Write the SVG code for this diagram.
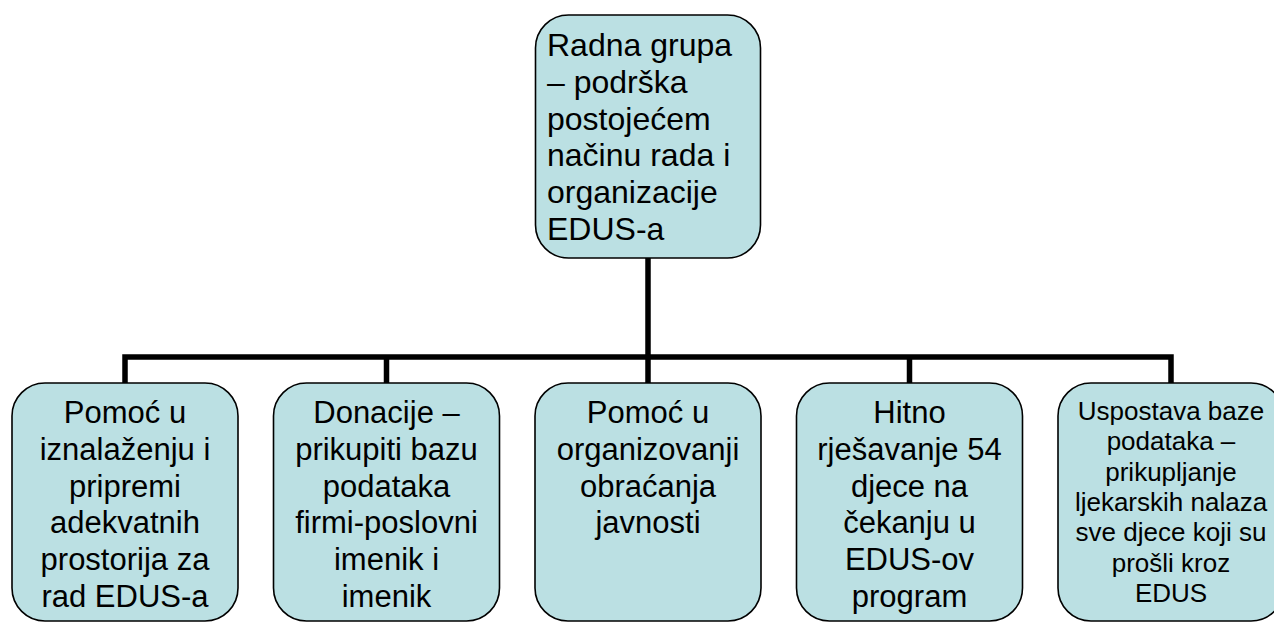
<svg xmlns="http://www.w3.org/2000/svg" width="1274" height="622" viewBox="0 0 1274 622">
<style>
.box{fill:#BBE0E3;stroke:#000;stroke-width:1.6}
.conn{fill:none;stroke:#000;stroke-width:5.5;stroke-linecap:butt;stroke-linejoin:miter}
text{font-family:"Liberation Sans",Arial,sans-serif;fill:#000}
.t{font-size:31px;text-anchor:middle}
.s{font-size:26px;text-anchor:middle}
.top{font-size:32px}
</style>
<rect width="1274" height="622" fill="#fff"/>
<g id="connectors">
<path class="conn" d="M648 258V357M125 383V357H1171V383M386.5 357V383M648 357V383M909.5 357V383"/>
</g>
<g id="root">
<rect class="box" x="535.5" y="15" width="225" height="243" rx="33"/>
<text class="top" x="547"><tspan x="547" y="56">Radna grupa</tspan><tspan x="547" y="92.8">– podrška</tspan><tspan x="547" y="129.6">postojećem</tspan><tspan x="547" y="166.4">načinu rada i</tspan><tspan x="547" y="203.2">organizacije</tspan><tspan x="547" y="240">EDUS-a</tspan></text>
</g>
<g id="n1">
<rect class="box" x="12" y="383" width="226" height="238" rx="33"/>
<text class="t"><tspan x="125" y="423">Pomoć u</tspan><tspan x="125" y="459.8">iznalaženju i</tspan><tspan x="125" y="496.6">pripremi</tspan><tspan x="125" y="533.4">adekvatnih</tspan><tspan x="125" y="570.2">prostorija za</tspan><tspan x="125" y="607">rad EDUS-a</tspan></text>
</g>
<g id="n2">
<rect class="box" x="273.5" y="383" width="226" height="238" rx="33"/>
<text class="t"><tspan x="386.5" y="423">Donacije –</tspan><tspan x="386.5" y="459.8">prikupiti bazu</tspan><tspan x="386.5" y="496.6">podataka</tspan><tspan x="386.5" y="533.4">firmi-poslovni</tspan><tspan x="386.5" y="570.2">imenik i</tspan><tspan x="386.5" y="607">imenik</tspan></text>
</g>
<g id="n3">
<rect class="box" x="535" y="383" width="226" height="238" rx="33"/>
<text class="t"><tspan x="648" y="423">Pomoć u</tspan><tspan x="648" y="459.8">organizovanji</tspan><tspan x="648" y="496.6">obraćanja</tspan><tspan x="648" y="533.4">javnosti</tspan></text>
</g>
<g id="n4">
<rect class="box" x="796.5" y="383" width="226" height="238" rx="33"/>
<text class="t"><tspan x="909.5" y="423">Hitno</tspan><tspan x="909.5" y="459.8">rješavanje 54</tspan><tspan x="909.5" y="496.6">djece na</tspan><tspan x="909.5" y="533.4">čekanju u</tspan><tspan x="909.5" y="570.2">EDUS-ov</tspan><tspan x="909.5" y="607">program</tspan></text>
</g>
<g id="n5">
<rect class="box" x="1058" y="383" width="226" height="238" rx="33"/>
<text class="s"><tspan x="1171" y="420">Uspostava baze</tspan><tspan x="1171" y="450.3">podataka –</tspan><tspan x="1171" y="480.6">prikupljanje</tspan><tspan x="1171" y="510.9">ljekarskih nalaza</tspan><tspan x="1171" y="541.2">sve djece koji su</tspan><tspan x="1171" y="571.5">prošli kroz</tspan><tspan x="1171" y="601.8">EDUS</tspan></text>
</g>
</svg>
